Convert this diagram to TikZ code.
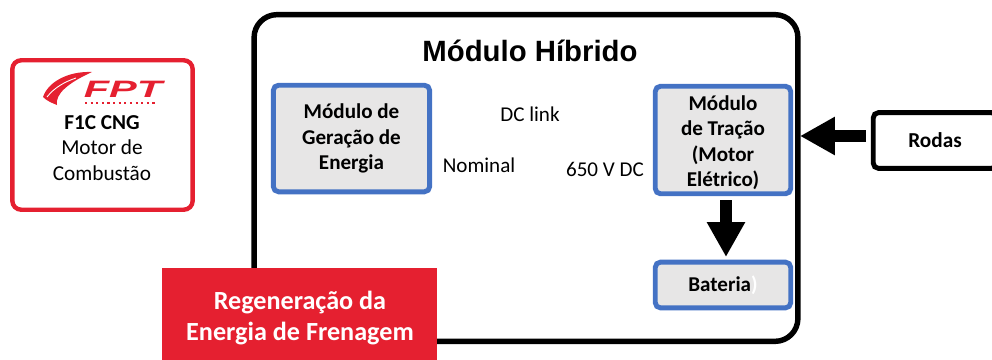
\documentclass[tikz,border=0pt]{standalone}
\usepackage{fontspec}
\setmainfont{Carlito}
\newfontfamily\titlefont{Liberation Sans}
\usetikzlibrary{arrows.meta}
\definecolor{fptred}{HTML}{E52030}
\definecolor{modblue}{HTML}{4472C4}
\definecolor{modgray}{HTML}{E7E6E6}
\tikzset{>=Stealth,
  modbox/.style={draw=modblue,fill=modgray,line width=2.8pt,rounded corners=3pt,align=center,font=\fontsize{12}{14.4}\selectfont\bfseries,inner sep=0pt},
  plain/.style={font=\fontsize{12}{14}\selectfont},
  bigarrow/.style={line width=6.8pt,-{Triangle[length=19.8pt,width=20.4pt]}}}
\begin{document}
\begin{tikzpicture}[x=.02cm,y=-.02cm]
\useasboundingbox (0,0) rectangle (992,359);
\node[draw,line width=3.1pt,rounded corners=13pt,minimum width=546*.5669pt,minimum height=328*.5669pt] (hibrido) at (526,178) {};
\node[font=\titlefont\fontsize{16.7}{20}\selectfont\bfseries] (titulo) at (530,51) {Módulo Híbrido};
\node[modbox,minimum width=157*.5669pt,minimum height=107*.5669pt] (geracao) at (351.5,138.5) {Módulo de\\Geração de\\Energia};
\node[modbox,minimum width=136*.5669pt,minimum height=108*.5669pt] (tracao) at (723,140) {\rule{0pt}{11.5pt}Módulo\\de Tração\\(Motor\\Elétrico)};
\node[modbox,minimum width=136*.5669pt,minimum height=46*.5669pt] (bateria) at (723,285) {Bateria{\color{white})}};
\node[plain] (dclink) at (530,114) {DC link};
\node[plain] (nominal) at (479,165) {Nominal};
\node[plain] (tensao) at (605,169) {650 V DC};
\node[draw=fptred,line width=2.5pt,rounded corners=5pt,minimum width=181*.5669pt,minimum height=150*.5669pt] (motor) at (102.5,135) {};
\node[font=\fontsize{12.1}{14.7}\selectfont,align=center] (motortxt) at (102,148) {\textbf{F1C CNG}\\Motor de\\Combustão};
\node[fill=fptred,minimum width=277*.5669pt,minimum height=100*.5669pt] (regen) at (299.5,318) {};
\node[text=white,align=center,font=\fontsize{14.9}{17.6}\selectfont\bfseries] (regentxt) at (300,318) {Regeneração da\\Energia de Frenagem};
\node[draw,line width=2.8pt,rounded corners=3pt,minimum width=124*.5669pt,minimum height=56*.5669pt,font=\fontsize{12.1}{14}\selectfont\bfseries] (rodas) at (935,140.5) {\raisebox{-2.5pt}{Rodas}};
\coordinate (rodasOut) at (866,136);
\coordinate (hibridoIn) at (800,136);
\coordinate (tracaoOut) at (726,200);
\coordinate (bateriaIn) at (726,257);
\draw[bigarrow] (rodasOut) -- (hibridoIn);
\draw[bigarrow] (tracaoOut) -- (bateriaIn);
\fill[fptred] (92,72) .. controls (68,71) and (48,82) .. (43,97) .. controls (47,101) and (52,103) .. (57,105)
  .. controls (55,94) and (68,83) .. (92,72);
\draw[white,line width=.5pt] (47,97) .. controls (54,88) and (64,82) .. (76,78);
\node[text=fptred,xscale=1.75,font=\titlefont\fontsize{13.5}{14}\selectfont\bfseries\itshape] (logo) at (123,89) {FPT};
\draw[fptred,line width=1.2pt,dotted] (85,103) -- (155,103);
\end{tikzpicture}
\end{document}
